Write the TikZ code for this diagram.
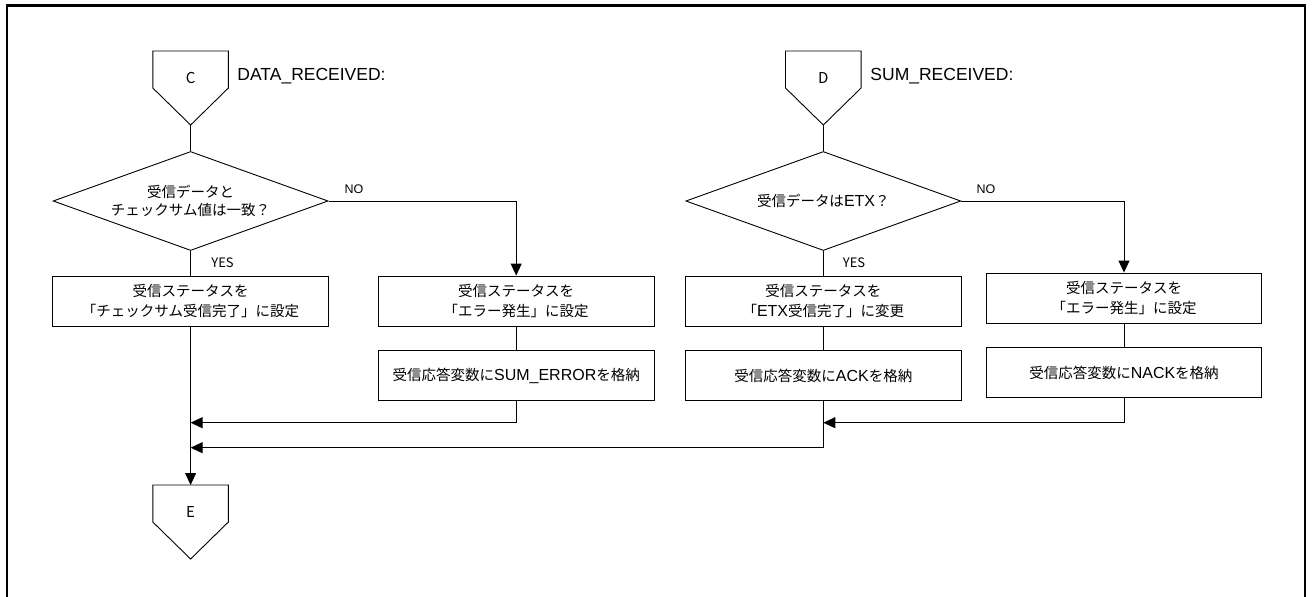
\documentclass[tikz,border=0pt]{standalone}
\usepackage{fontspec}
\setmainfont{Liberation Sans}
\newfontfamily\jp{Noto Sans CJK JP}
\usetikzlibrary{shapes.geometric,arrows.meta}
\newcommand{\La}[1]{{\rmfamily\fontsize{16}{20}\selectfont #1}}
\newcommand{\offpage}[4]{%
  \draw (#2-37.8,#3) -- (#2+37.8,#3) -- (#2+37.8,#3+37) -- (#2,#3+74) -- (#2-37.8,#3+37) -- cycle;
  \coordinate (#1top) at (#2,#3);
  \coordinate (#1tip) at (#2,#3+74);
  \node[conlbl] (#1) at (#2,#3+27) {#4};
}
\begin{document}
\begin{tikzpicture}[x=1pt,y=-1pt,
  line width=0.9pt,
  proc/.style={draw, minimum width=275.7pt, minimum height=50pt, inner sep=0pt, align=center,
    font=\jp\fontsize{14.5}{20}\selectfont},
  dec/.style={diamond, draw, minimum width=275pt, minimum height=99pt, inner sep=0pt},
  dectext/.style={inner sep=0pt, align=center, font=\jp\fontsize{14.5}{18.5}\selectfont},
  conlbl/.style={font=\jp\fontsize{15}{17}\selectfont, inner sep=0pt},
  yeslbl/.style={font=\jp\fontsize{13}{15}\selectfont, inner sep=0pt},
  nolbl/.style={font=\rmfamily\fontsize{12.5}{15}\selectfont, inner sep=0pt},
  title/.style={font=\rmfamily\fontsize{17.5}{20}\selectfont, inner sep=0pt, anchor=west},
  arr/.style={-{Triangle[length=12pt,width=11pt]}}
]
\useasboundingbox (0,0) rectangle (1312,597);
\draw[line width=2.4pt] (6.7,620) -- (6.7,5.5) -- (1305,5.5) -- (1305,620);

% left column
\offpage{C}{190.6}{51}{C}
\node[title] (dr) at (237,76) {DATA\_RECEIVED:};
\node[dec] (d1) at (190.6,201) {};
\node[dectext] (d1t) at (d1.center) {受信データと\\チェックサム値は一致？};
\node[proc] (b1) at (190.6,301) {受信ステータスを\\「チェックサム受信完了」に設定};
\node[proc] (b2) at (516.2,301) {受信ステータスを\\「エラー発生」に設定};
\node[proc] (b3) at (516.2,375.7) {受信応答変数に\La{SUM\_ERROR}を格納};
\offpage{E}{190.6}{485}{E}
\node[nolbl] (no1) at (354,189) {NO};
\node[yeslbl] (yes1) at (222.5,263) {YES};

% right column
\offpage{D}{823.3}{51}{D}
\node[title] (sr) at (870,76) {SUM\_RECEIVED:};
\node[dec] (d2) at (823.3,201) {};
\node[dectext] (d2t) at (d2.center) {受信データは\La{ETX}？};
\node[proc] (b4) at (823.3,301) {受信ステータスを\\「\La{ETX}受信完了」に変更};
\node[proc] (b5) at (823.3,375.7) {受信応答変数に\La{ACK}を格納};
\node[proc] (b6) at (1124,298) {受信ステータスを\\「エラー発生」に設定};
\node[proc] (b7) at (1124,372.7) {受信応答変数に\La{NACK}を格納};
\node[nolbl] (no2) at (986,189) {NO};
\node[yeslbl] (yes2) at (854,263) {YES};

\coordinate (m1) at (190.6,422.7);
\coordinate (m2) at (190.6,447.7);
\coordinate (m3) at (823.3,422.7);

% connectors
\draw (Ctip) -- (d1.north);
\draw (d1.south) -- (b1.north);
\draw[arr] (d1.east) -| (b2.north);
\draw (b2.south) -- (b3.north);
\draw[arr] (b3.south) |- (m1);
\draw[arr] (b1.south) -- (Etop);

\draw (Dtip) -- (d2.north);
\draw (d2.south) -- (b4.north);
\draw[arr] (d2.east) -| (b6.north);
\draw (b4.south) -- (b5.north);
\draw (b6.south) -- (b7.north);
\draw[arr] (b7.south) |- (m3);
\draw[arr] (b5.south) |- (m2);
\end{tikzpicture}
\end{document}
